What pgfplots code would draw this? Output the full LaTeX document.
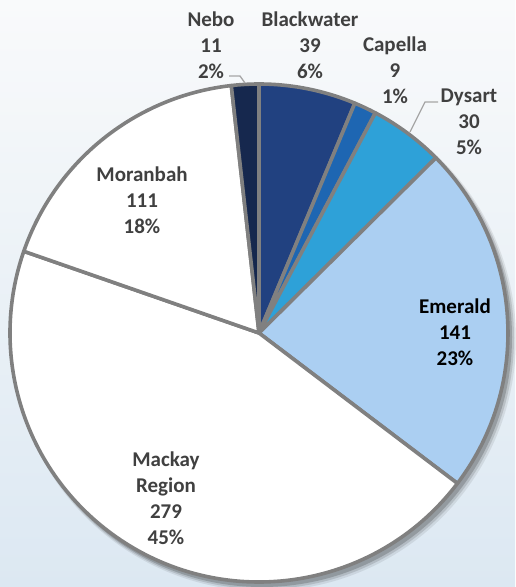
\documentclass[border=0pt]{standalone}
\usepackage{pgfplots}
\pgfplotsset{compat=1.18}
\usepackage{pgfplotstable}
\usepackage{fontspec}
\setmainfont{Carlito}
\definecolor{cNebo}{RGB}{22,40,78}
\definecolor{cBlackwater}{RGB}{33,65,128}
\definecolor{cCapella}{RGB}{30,102,178}
\definecolor{cDysart}{RGB}{46,161,216}
\definecolor{cEmerald}{RGB}{171,207,242}
\definecolor{pieline}{RGB}{128,128,128}
\definecolor{leader}{RGB}{166,166,166}
\definecolor{labelgray}{RGB}{64,64,64}
\definecolor{bgtop}{RGB}{249,250,251}
\definecolor{bgmid}{RGB}{240,244,248}
\definecolor{bgbot}{RGB}{220,232,242}

\pgfplotstableread{
name value col
Blackwater 39 cBlackwater
Capella 9 cCapella
Dysart 30 cDysart
Emerald 141 cEmerald
Mackay 279 white
Moranbah 111 white
Nebo 11 cNebo
}\pietable

\begin{document}
\xdef\total{0}%
\pgfplotsforeachungrouped \i in {0,...,6}{%
  \pgfplotstablegetelem{\i}{value}\of\pietable
  \pgfmathsetmacro\tmp{\total+\pgfplotsretval}\xdef\total{\tmp}}%
\xdef\cum{0}%
\pgfplotsforeachungrouped \i in {0,...,6}{%
  \pgfplotstablegetelem{\i}{value}\of\pietable
  \pgfmathsetmacro\sa{90-360*(\cum/\total)}%
  \pgfmathsetmacro\tmp{\cum+\pgfplotsretval}\xdef\cum{\tmp}%
  \pgfmathsetmacro\ea{90-360*(\cum/\total)}%
  \pgfplotstablegetelem{\i}{col}\of\pietable
  \expandafter\xdef\csname sa\i\endcsname{\sa}%
  \expandafter\xdef\csname ea\i\endcsname{\ea}%
  \expandafter\xdef\csname col\i\endcsname{\pgfplotsretval}%
}%
\begin{tikzpicture}
\begin{axis}[x=1pt, y=1pt, xmin=0, xmax=515, ymin=0, ymax=587,
  hide axis, clip=false, scale only axis, anchor=origin, at={(0,0)}]
% background
\shade[top color=bgtop, middle color=bgmid, bottom color=bgbot]
  (axis cs:0,0) rectangle (axis cs:515,587);
% shadow
\fill[black, opacity=0.08] (axis cs:264,248) circle[radius=252pt];
\fill[black, opacity=0.12] (axis cs:263,249) circle[radius=251pt];
\fill[black, opacity=0.18] (axis cs:262,250) circle[radius=250pt];
% slices
\pgfplotsinvokeforeach{0,...,6}{%
  \edef\temp{\noexpand\filldraw[fill=\csname col#1\endcsname, draw=pieline,
      line width=3.6pt, line join=round]
    (axis cs:259,254) -- ++(\csname sa#1\endcsname:249pt)
    arc[start angle=\csname sa#1\endcsname, end angle=\csname ea#1\endcsname,
        radius=249pt] -- cycle;}%
  \temp
}
% leader lines
\draw[leader, line width=1.3pt] (axis cs:229,511) -- (axis cs:240,511) -- (axis cs:245,504);
\draw[leader, line width=1.3pt] (axis cs:438,485) -- (axis cs:425,485) -- (axis cs:410,455);
% labels
\tikzset{lab/.style={align=center, inner sep=0pt,
   font=\fontsize{21}{26}\selectfont\bfseries, text=labelgray}}
\node[lab] at (axis cs:211,542) {Nebo\\11\\2\%};
\node[lab] at (axis cs:310,542) {Blackwater\\39\\6\%};
\node[lab] at (axis cs:395,517) {Capella\\9\\1\%};
\node[lab] at (axis cs:469,465) {Dysart\\30\\5\%};
\node[lab] at (axis cs:142,387) {Moranbah\\111\\18\%};
\node[lab, text=black] at (axis cs:455,255) {Emerald\\141\\23\%};
\node[lab] at (axis cs:166,88.5) {Mackay\\Region\\279\\45\%};
\end{axis}
\pgfresetboundingbox
\useasboundingbox (0,0) rectangle (515pt,587pt);
\end{tikzpicture}
\end{document}
